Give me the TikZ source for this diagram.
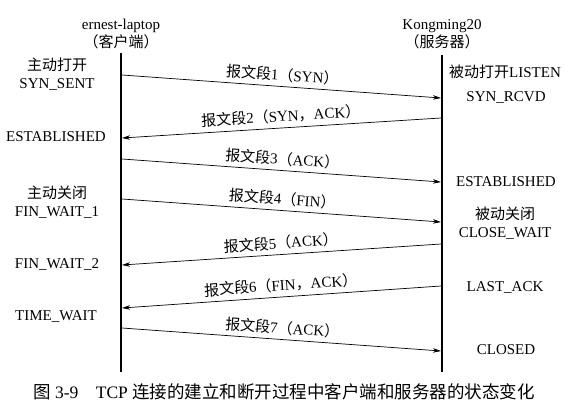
\documentclass[tikz,border=0pt]{standalone}
\usepackage{fontspec}
\setmainfont{Liberation Serif}
\newfontfamily\cjk{Noto Sans CJK SC}
\usetikzlibrary{arrows.meta}
\newcommand{\zh}[1]{{\cjk #1}}
\tikzset{
  lifeline/.style={line width=2.6pt},
  msg/.style={line width=0.7pt,-{Stealth[length=8pt,width=4.5pt]}},
  state/.style={font=\fontsize{15}{17.5}\selectfont, inner sep=0pt, align=center},
  seglabel/.style={font=\fontsize{15}{17}\selectfont, midway, above=1pt, sloped},
}
\begin{document}
\begin{tikzpicture}[x=1pt,y=-1pt]
            \useasboundingbox (0,0) rectangle (583,412);
            % hosts
            \node[state] (client) at (121,34) {ernest-laptop\\\zh{（客户端）}};
            \node[state] (server) at (442,34) {Kongming20\\\zh{（服务器）}};
            \draw (121,53) coordinate (cT);
            \draw (121,372) coordinate (cB);
            \draw (442,55) coordinate (sT);
            \draw (442,372) coordinate (sB);
            \draw[lifeline] (cT) -- (cB);
            \draw[lifeline] (sT) -- (sB);
            % client states
            \node[state] (cOpen) at (57,74) {\zh{主动打开}\\SYN\_SENT};
            \node[state] (cEst) at (56,137) {ESTABLISHED};
            \node[state] (cClose) at (57,202) {\zh{主动关闭}\\FIN\_WAIT\_1};
            \node[state] (cFinTwo) at (57,264) {FIN\_WAIT\_2};
            \node[state] (cTime) at (56,317) {TIME\_WAIT};
            % server states
            \node[state] (sListen) at (505,72) {\zh{被动打开}LISTEN};
            \node[state] (sRcvd) at (506,98) {SYN\_RCVD};
            \node[state] (sEst) at (506,182) {ESTABLISHED};
            \node[state] (sClose) at (505,223) {\zh{被动关闭}\\CLOSE\_WAIT};
            \node[state] (sLast) at (505,287) {LAST\_ACK};
            \node[state] (sClosed) at (506,350) {CLOSED};
            % segment ends
            \draw (122,75) coordinate (c1);
            \draw (441,98) coordinate (s1);
            \draw (441,118) coordinate (s2);
            \draw (122,138) coordinate (c2);
            \draw (122,159) coordinate (c3);
            \draw (441,182) coordinate (s3);
            \draw (122,199) coordinate (c4);
            \draw (441,222) coordinate (s4);
            \draw (441,244) coordinate (s5);
            \draw (122,265) coordinate (c5);
            \draw (441,286) coordinate (s6);
            \draw (122,308) coordinate (c6);
            \draw (122,328) coordinate (c7);
            \draw (441,351) coordinate (s7);
            % segments
            \draw[msg] (c1) -- (s1) node[seglabel] {\zh{报文段}1\zh{（}SYN\zh{）}};
            \draw[msg] (s2) -- (c2) node[seglabel] {\zh{报文段}2\zh{（}SYN\zh{，}ACK\zh{）}};
            \draw[msg] (c3) -- (s3) node[seglabel] {\zh{报文段}3\zh{（}ACK\zh{）}};
            \draw[msg] (c4) -- (s4) node[seglabel] {\zh{报文段}4\zh{（}FIN\zh{）}};
            \draw[msg] (s5) -- (c5) node[seglabel] {\zh{报文段}5\zh{（}ACK\zh{）}};
            \draw[msg] (s6) -- (c6) node[seglabel] {\zh{报文段}6\zh{（}FIN\zh{，}ACK\zh{）}};
            \draw[msg] (c7) -- (s7) node[seglabel] {\zh{报文段}7\zh{（}ACK\zh{）}};
            % caption
            \node[font=\fontsize{17.5}{19}\selectfont, inner sep=0pt] (caption) at (284,392)
              {\zh{图} 3-9\quad TCP \zh{连接的建立和断开过程中客户端和服务器的状态变化}};
        \end{tikzpicture}
\end{document}
